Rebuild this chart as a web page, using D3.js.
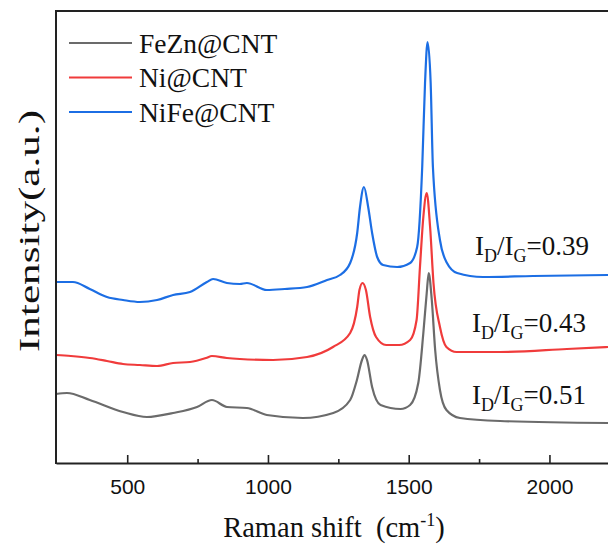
<!DOCTYPE html>
<html>
<head>
<meta charset="utf-8">
<script src="https://cdn.jsdelivr.net/npm/d3@7"></script>
<style>
  body { margin: 0; background: #fff; }
  svg { display: block; }
</style>
</head>
<body>
<div id="chart"></div>
<script>
// DATA (Raman shift in cm-1, intensity in a.u. with stacking offset)

var feznShift = [247, 286, 367, 485, 570, 663, 748, 801, 854, 925, 996, 1124, 1232, 1292, 1316, 1334, 1343, 1352, 1370, 1400, 1471, 1505, 1534, 1552, 1564, 1571, 1582, 1594, 1611, 1634, 1682, 1825, 2208];
var feznInt = [69, 70, 63, 51, 46, 50, 56, 63, 56, 55, 48, 45, 50, 63, 83, 103, 108, 103, 76, 58, 54, 58, 80, 130, 170, 190, 163, 113, 73, 53, 45, 42, 40];

var niShift = [247, 300, 367, 428, 485, 545, 606, 663, 723, 780, 801, 854, 900, 1018, 1139, 1231, 1292, 1317, 1325, 1336, 1348, 1363, 1384, 1420, 1466, 1505, 1528, 1540, 1552, 1564, 1576, 1588, 1611, 1634, 1670, 1825, 2062, 2208];
var niInt = [108, 107, 105, 102, 99, 98, 97, 100, 101, 105, 107, 105, 104, 103, 106, 116, 130, 156, 173, 180, 173, 146, 126, 118, 118, 123, 143, 196, 246, 270, 236, 180, 136, 116, 111, 111, 114, 116];

var nifeShift = [247, 307, 367, 428, 485, 545, 606, 663, 723, 783, 805, 854, 900, 925, 996, 1060, 1139, 1210, 1256, 1292, 1317, 1327, 1341, 1356, 1370, 1388, 1409, 1459, 1505, 1530, 1548, 1558, 1567, 1578, 1586, 1611, 1636, 1672, 1764, 1942, 2208];
var nifeInt = [181, 181, 174, 166, 163, 161, 163, 168, 171, 181, 184, 180, 179, 180, 173, 174, 176, 183, 188, 200, 230, 256, 276, 256, 230, 206, 198, 196, 200, 216, 296, 380, 421, 380, 296, 223, 200, 190, 186, 187, 188];

var seriesNames = ["FeZn@CNT", "Ni@CNT", "NiFe@CNT"];
var seriesColors = ["#6b6b6b", "#f03b3b", "#1c6ee4"];

var majorTicks = [500, 1000, 1500, 2000];
var minorTicks = [750, 1250, 1750];

var ratioLabels = ["0.51", "0.43", "0.39"];

// LAYOUT
var width = 608,
  height = 545;
var plotLeft = 56,
  plotRight = 608,
  plotTop = 11,
  plotBottom = 463;

var serif = "'Liberation Serif', 'Times New Roman', serif";
var sans = "'Liberation Sans', Arial, sans-serif";

var svg = d3.select("#chart")
  .append("svg")
  .attr("width", width)
  .attr("height", height);

var xScale = d3.scaleLinear().domain([247, 2208]).range([plotLeft, plotRight]),
  yScale = d3.scaleLinear().domain([0, 452]).range([plotBottom, plotTop]);

var series = [
  { name: seriesNames[0], color: seriesColors[0], x: feznShift, y: feznInt },
  { name: seriesNames[1], color: seriesColors[1], x: niShift, y: niInt },
  { name: seriesNames[2], color: seriesColors[2], x: nifeShift, y: nifeInt },
];

var line = d3.line()
  .x(function (d) { return xScale(d[0]); })
  .y(function (d) { return yScale(d[1]); })
  .curve(d3.curveMonotoneX);

// curves
svg.append("g")
  .selectAll("path")
  .data(series)
  .enter()
  .append("path")
  .attr("fill", "none")
  .attr("stroke", function (d) { return d.color; })
  .attr("stroke-width", 2.2)
  .attr("stroke-linejoin", "round")
  .attr("d", function (d) {
    return line(d.x.map(function (v, i) { return [v, d.y[i]]; }));
  });

// x axis, ticks pointing inward
var xAxis = svg.append("g")
  .attr("transform", "translate(0," + plotBottom + ")")
  .call(d3.axisBottom(xScale)
    .tickValues(majorTicks)
    .tickSizeInner(-8)
    .tickSizeOuter(0)
    .tickPadding(16)
    .tickFormat(d3.format("d")));

xAxis.select(".domain").attr("stroke", "#222").attr("stroke-width", 2);
xAxis.selectAll(".tick line").attr("stroke", "#222").attr("stroke-width", 1.6);
xAxis.selectAll("text")
  .attr("fill", "#111")
  .style("font-family", sans)
  .style("font-size", "21px");

var xMinor = svg.append("g")
  .attr("transform", "translate(0," + plotBottom + ")")
  .call(d3.axisBottom(xScale)
    .tickValues(minorTicks)
    .tickSizeInner(-4)
    .tickSizeOuter(0)
    .tickFormat(""));
xMinor.select(".domain").remove();
xMinor.selectAll(".tick line").attr("stroke", "#222").attr("stroke-width", 1.6);

// left and top frame
svg.append("line")
  .attr("x1", plotLeft).attr("x2", plotLeft)
  .attr("y1", plotTop - 1).attr("y2", plotBottom + 1)
  .attr("stroke", "#222").attr("stroke-width", 2);
svg.append("line")
  .attr("x1", plotLeft - 1).attr("x2", plotRight)
  .attr("y1", plotTop).attr("y2", plotTop)
  .attr("stroke", "#222").attr("stroke-width", 2);

// axis titles
var xTitle = svg.append("text")
  .attr("x", 334)
  .attr("y", 537)
  .attr("text-anchor", "middle")
  .style("font-family", serif)
  .style("font-size", "28.5px")
  .attr("fill", "#111");
xTitle.append("tspan").text("Raman shift\u00a0\u00a0(cm");
xTitle.append("tspan").attr("dy", -11).style("font-size", "18px").text("-1");
xTitle.append("tspan").attr("dy", 11).text(")");

svg.append("text")
  .attr("transform", "translate(39,231) rotate(-90)")
  .attr("text-anchor", "middle")
  .attr("textLength", 242)
  .attr("lengthAdjust", "spacingAndGlyphs")
  .style("font-family", serif)
  .style("font-size", "30px")
  .attr("fill", "#111")
  .text("Intensity(a.u.)");

// legend
var legend = svg.append("g")
  .selectAll("g")
  .data(series)
  .enter()
  .append("g")
  .attr("transform", function (d, i) { return "translate(69," + (43 + i * 34.5) + ")"; });

legend.append("line")
  .attr("x1", 0).attr("x2", 63)
  .attr("stroke", function (d) { return d.color; })
  .attr("stroke-width", 2.2);

legend.append("text")
  .attr("x", 70)
  .attr("y", 9.5)
  .style("font-family", serif)
  .style("font-size", "27.5px")
  .attr("fill", "#111")
  .text(function (d) { return d.name; });

// ID/IG annotations
var ratioPos = [[472, 404], [472, 332], [475, 255]];

ratioLabels.forEach(function (r, i) {
  var t = svg.append("text")
    .attr("x", ratioPos[i][0])
    .attr("y", ratioPos[i][1])
    .style("font-family", serif)
    .style("font-size", "27px")
    .attr("fill", "#111");
  t.append("tspan").text("I");
  t.append("tspan").attr("dy", 7).style("font-size", "18px").text("D");
  t.append("tspan").attr("dy", -7).text("/I");
  t.append("tspan").attr("dy", 7).style("font-size", "18px").text("G");
  t.append("tspan").attr("dy", -7).text("=" + r);
});
</script>
</body>
</html>
